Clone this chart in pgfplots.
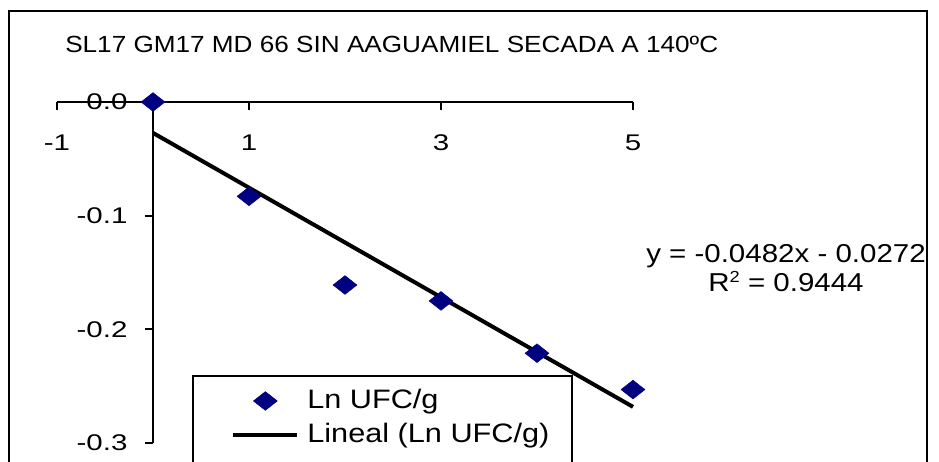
\documentclass[border=0pt]{standalone}
\usepackage{fontspec}
\setmainfont{Liberation Sans}
\newfontfamily\titlef[FakeStretch=1.12]{Liberation Sans}
\newfontfamily\tickf[FakeStretch=1.3]{Liberation Sans}
\newfontfamily\eqf[FakeStretch=1.14]{Liberation Sans}
\newfontfamily\legf[FakeStretch=1.15]{Liberation Sans}
\usepackage{pgfplots}
\pgfplotsset{compat=1.18}
\definecolor{navy}{RGB}{0,0,128}
\pgfplotsset{
  marklegend/.style={legend image code/.code={\draw[mark repeat=2,mark phase=2,##1]
        plot coordinates {(0pt,0pt) (24pt,0pt) (48pt,0pt)};}},
  linelegend/.style={legend image code/.code={\draw[##1] (0pt,0pt) -- (48pt,0pt);}},
}

\begin{document}
\begin{tikzpicture}
\useasboundingbox (0,0) rectangle (704.25pt,345.75pt);
\clip (0,0) rectangle (704.25pt,345.75pt);
\fill[white] (0,0) rectangle (704.25pt,345.75pt);
\draw[line width=1.5pt] (6.75pt,-10pt) rectangle (695.25pt,337.5pt);
\node[anchor=base west, inner sep=0pt, font=\titlef\fontsize{17.5pt}{21pt}\selectfont]
  at (48.75pt,306pt) {SL17 GM17 MD 66 SIN AAGUAMIEL SECADA A 140ºC};

\begin{axis}[
    scale only axis,
    width=432pt, height=255.75pt,
    at={(42.75pt,13.5pt)}, anchor=south west,
    xmin=-1, xmax=5, ymin=-0.3, ymax=0,
    enlargelimits=false,
    axis lines=middle,
    axis line style={-, line width=1.5pt},
    hide obscured x ticks=false, hide obscured y ticks=false,
    xtick={-1,1,3,5}, xticklabels={-1,1,3,5},
    ytick={-0.3,-0.2,-0.1,0}, yticklabels={-0.3,-0.2,-0.1,0.0},
    minor tick num=0,
    tick align=outside,
    major tick length=6pt,
    tick style={line width=1.5pt, black},
    ticklabel style={font=\tickf\fontsize{17pt}{20pt}\selectfont},
    xticklabel style={anchor=base, yshift=-30pt},
    yticklabel style={anchor=east, inner sep=0pt, xshift=-13pt},
    clip=false,
    legend cell align=left,
    legend style={draw=none, fill=none, inner sep=0pt, outer sep=0pt,
        anchor=north west, at={(axis description cs:0.3027,0.1604)},
        font=\legf\fontsize{20pt}{24pt}\selectfont,
        row sep=6.5pt, column sep=6pt,
        nodes={inner sep=0pt, text height=15pt, text depth=4pt}},
]
\addplot[only marks, mark=diamond*, mark size=7pt, color=navy,
    mark options={xscale=1.7}, marklegend]
  coordinates {(0,0) (1,-0.083) (2,-0.161) (3,-0.175) (4,-0.221) (5,-0.253)};
\addlegendentry{Ln UFC/g}
\addplot[black, line width=3pt, no marks, linelegend]
  coordinates {(0,-0.0272) (5,-0.2682)};
\addlegendentry{Lineal (Ln UFC/g)}
\draw[fill=white, line width=1.5pt]
  (axis description cs:0.23611,-0.0919) rectangle (axis description cs:0.89410,0.19648);
\end{axis}

\node[anchor=base, inner sep=0pt, font=\eqf\fontsize{19.4pt}{23pt}\selectfont]
  at (589.5pt,148.5pt) {y = -0.0482x - 0.0272};
\node[anchor=base, inner sep=0pt, font=\eqf\fontsize{19.4pt}{23pt}\selectfont]
  at (589.5pt,126.75pt) {R\raisebox{0.36em}{\fontsize{12pt}{12pt}\selectfont 2} = 0.9444};
\end{tikzpicture}
\end{document}
